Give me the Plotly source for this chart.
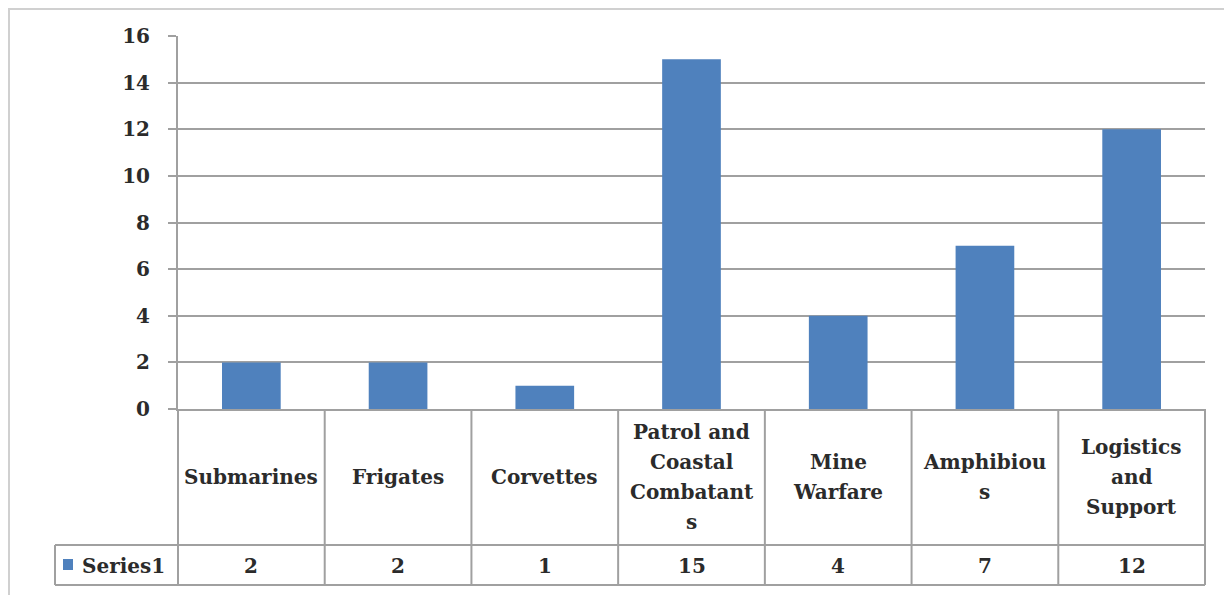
import plotly.graph_objects as go

categories = ["Submarines", "Frigates", "Corvettes", "Patrol and Coastal Combatants",
              "Mine Warfare", "Amphibious", "Logistics and Support"]
label_lines = [["Submarines"], ["Frigates"], ["Corvettes"], ["Patrol and", "Coastal", "Combatant", "s"],
               ["Mine", "Warfare"], ["Amphibiou", "s"], ["Logistics", "and", "Support"]]
series_name = "Series1"
values = [2, 2, 1, 15, 4, 7, 12]
y_ticks = [0, 2, 4, 6, 8, 10, 12, 14, 16]

OFF = 8  # page body margin
W, H = 1232 - OFF, 595 - OFF
L, R, T, B = 178 - OFF, 1205 - OFF, 36 - OFF, 409 - OFF
PW, PH = R - L, B - T

def px(x):
    return (x - OFF - L) / PW

def py(y):
    return (B - (y - OFF)) / PH

BAR = "#4F81BD"
GRID = "#a0a0a0"
TXT = "#2b2b2b"
FONT = "DejaVu Serif"
FS = 20
LINE_H = 30

fig = go.Figure(go.Bar(x=categories, y=values, marker_color=BAR, marker_line_width=0,
                       name=series_name, showlegend=False))

n = len(categories)
shapes = []
shapes.append(dict(type="rect", xref="paper", yref="paper", x0=px(9), x1=px(1229), y0=py(610), y1=py(9),
                   line=dict(color="#d0d0d0", width=2), layer="below"))
for k in range(n + 1):
    shapes.append(dict(type="line", xref="paper", yref="paper", x0=k / n, x1=k / n, y0=py(409), y1=py(585),
                       line=dict(color=GRID, width=2)))
for yy in (545, 585):
    shapes.append(dict(type="line", xref="paper", yref="paper", x0=px(55), x1=1, y0=py(yy), y1=py(yy),
                       line=dict(color=GRID, width=2)))
shapes.append(dict(type="line", xref="paper", yref="paper", x0=px(55), x1=px(55), y0=py(545), y1=py(585),
                   line=dict(color=GRID, width=2)))
shapes.append(dict(type="rect", xref="paper", yref="paper", x0=px(63), x1=px(73), y0=py(570), y1=py(559),
                   fillcolor=BAR, line=dict(width=0)))

font = dict(family=FONT, size=FS, color=TXT, weight="bold")
annotations = []
for i, (lines, v) in enumerate(zip(label_lines, values)):
    m = len(lines)
    for j, line in enumerate(lines):
        yc = 477 + (j - (m - 1) / 2) * LINE_H
        annotations.append(dict(x=categories[i], xref="x", y=py(yc), yref="paper", text=line, showarrow=False,
                                font=font, xanchor="center", yanchor="middle"))
    annotations.append(dict(x=categories[i], xref="x", y=py(566), yref="paper", text=str(v), showarrow=False,
                            font=font, xanchor="center", yanchor="middle"))
annotations.append(dict(x=px(80), xref="paper", y=py(566), yref="paper", text=series_name, showarrow=False,
                        font=font, xanchor="left", yanchor="middle"))

fig.update_layout(
    width=W, height=H,
    margin=dict(l=L, r=W - R, t=T, b=H - B),
    paper_bgcolor="white", plot_bgcolor="white",
    bargap=0.6,
    shapes=shapes, annotations=annotations,
    font=dict(family=FONT, size=FS, color=TXT),
    xaxis=dict(showticklabels=False, showgrid=False, showline=True, linecolor=GRID, linewidth=2,
               range=[-0.5, n - 0.5], ticks=""),
    yaxis=dict(range=[0, 16], tickvals=y_ticks, showgrid=True, gridcolor=GRID, gridwidth=2,
               showline=True, linecolor=GRID, linewidth=2, ticks="outside", ticklen=8, tickcolor=GRID,
               tickwidth=2, zeroline=False, ticklabelstandoff=14, tickfont=font),
)

fig.write_html("out.html")
